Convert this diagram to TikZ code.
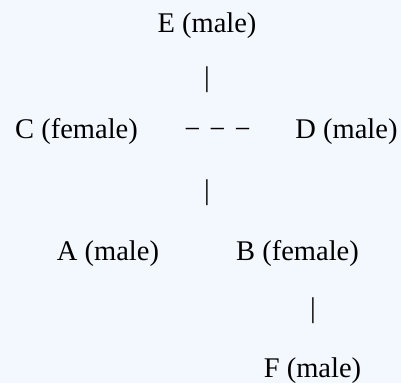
\documentclass[tikz,border=0pt]{standalone}
\usepackage{fontspec}
\setmainfont{Liberation Serif}
\definecolor{bgc}{RGB}{243,247,254}
\begin{document}
\begin{tikzpicture}[x=1pt,y=1pt,
  lbl/.style={inner sep=0pt, anchor=base, font=\fontsize{28.5}{34}\selectfont, text=black},
  sym/.style={inner sep=0pt, anchor=center, font=\fontsize{28.5}{34}\selectfont, text=black}]
\fill[bgc] (0,0) rectangle (401,383);
\useasboundingbox (0,0) rectangle (401,383);
\node[lbl] (E) at (207,350) {E (male)};
\node[sym] (b1) at (207,303.5) {|};
\node[lbl] (C) at (76.5,244) {C (female)};
\node[sym] (dash) at (217.5,250) {−\hspace{9pt}−\hspace{9pt}−};
\node[lbl] (D) at (346.5,244) {D (male)};
\node[sym] (b2) at (207,190.5) {|};
\node[lbl] (A) at (108,123) {A (male)};
\node[lbl] (B) at (297.5,123) {B (female)};
\node[sym] (b3) at (313,72.5) {|};
\node[lbl] (F) at (312.5,6) {F (male)};
\end{tikzpicture}
\end{document}
